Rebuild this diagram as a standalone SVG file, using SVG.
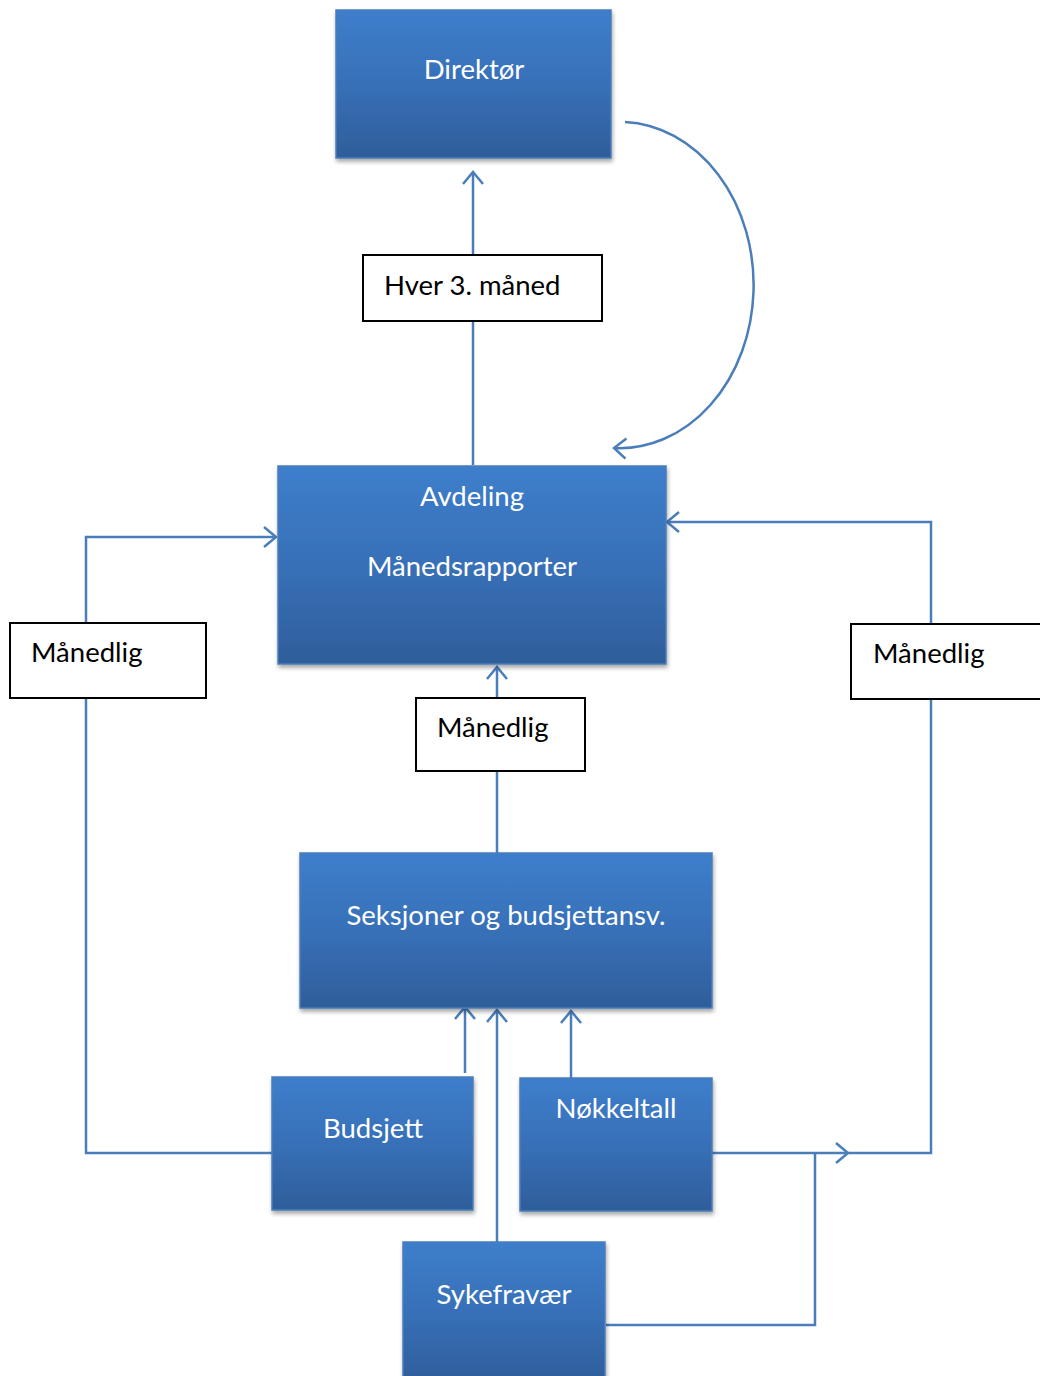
<svg xmlns="http://www.w3.org/2000/svg" width="1040" height="1376" viewBox="0 0 1040 1376">
<style>
.box{fill:url(#g);stroke:#4a7ebb;stroke-width:1.5;filter:url(#sh)}
.t{font-family:Lato,"Open Sans","Liberation Sans",sans-serif;font-size:27.5px;fill:#fff;text-anchor:middle}
.lb{fill:#fff;stroke:#000;stroke-width:2}
.lt{font-family:Lato,"Open Sans","Liberation Sans",sans-serif;font-size:27.5px;fill:#000}
.c{fill:none;stroke:#4a7ebb;stroke-width:2.5}
.a{marker-end:url(#ah)}
</style>
<defs>
<linearGradient id="g" x1="0" y1="0" x2="0" y2="1">
<stop offset="0" stop-color="#3d7ecb"/>
<stop offset="0.5" stop-color="#3870b8"/>
<stop offset="1" stop-color="#2e5e9a"/>
</linearGradient>
<filter id="sh" x="-10%" y="-10%" width="120%" height="125%">
<feDropShadow dx="1" dy="3" stdDeviation="2" flood-color="#000" flood-opacity="0.35"/>
</filter>
<marker id="ah" markerUnits="userSpaceOnUse" viewBox="-14 -12 16 24" refX="0" refY="0" markerWidth="16" markerHeight="24" orient="auto">
<path d="M-12,-10 L0,0 L-12,10" fill="none" stroke="#4a7ebb" stroke-width="2.5"/>
</marker>
</defs>
<g id="connectors">
<line class="c a" x1="473" y1="465" x2="473" y2="172"/>
<path class="c a" d="M625,122 A134,163 0 0 1 614,448"/>
<polyline class="c a" points="272,1153 86,1153 86,537 276,537"/>
<polyline class="c a" points="848,1153 931,1153 931,522 667,522"/>
<line class="c a" x1="712" y1="1153" x2="848" y2="1153"/>
<polyline class="c" points="606,1325 815,1325 815,1153"/>
<line class="c a" x1="497" y1="853" x2="497" y2="667"/>
<line class="c a" x1="465" y1="1073" x2="465" y2="1007"/>
<line class="c a" x1="497" y1="1242" x2="497" y2="1010"/>
<line class="c a" x1="571" y1="1078" x2="571" y2="1011"/>
</g>
<g id="label-hver"><rect class="lb" x="363" y="255" width="239" height="66"/><text class="lt" x="384" y="295">Hver 3. måned</text></g>
<g id="label-left"><rect class="lb" x="10" y="623" width="196" height="75"/><text class="lt" x="31" y="662">Månedlig</text></g>
<g id="label-right"><rect class="lb" x="851" y="624" width="200" height="75"/><text class="lt" x="873" y="663">Månedlig</text></g>
<g id="label-mid"><rect class="lb" x="416" y="698" width="169" height="73"/><text class="lt" x="437" y="737">Månedlig</text></g>
<g id="direktor"><rect class="box" x="336" y="10" width="275" height="148"/><text class="t" x="474" y="79">Direktør</text></g>
<g id="avdeling"><rect class="box" x="278" y="466" width="388" height="198"/><text class="t" x="472" y="506">Avdeling</text><text class="t" x="472" y="576">Månedsrapporter</text></g>
<g id="seksjoner"><rect class="box" x="300" y="853" width="412" height="155"/><text class="t" x="506" y="925">Seksjoner og budsjettansv.</text></g>
<g id="budsjett"><rect class="box" x="272" y="1077" width="201" height="133"/><text class="t" x="373" y="1138">Budsjett</text></g>
<g id="nokkeltall"><rect class="box" x="520" y="1078" width="192" height="133"/><text class="t" x="616" y="1118">Nøkkeltall</text></g>
<g id="sykefravaer"><rect class="box" x="403" y="1242" width="202" height="140"/><text class="t" x="504" y="1304">Sykefravær</text></g>
</svg>
